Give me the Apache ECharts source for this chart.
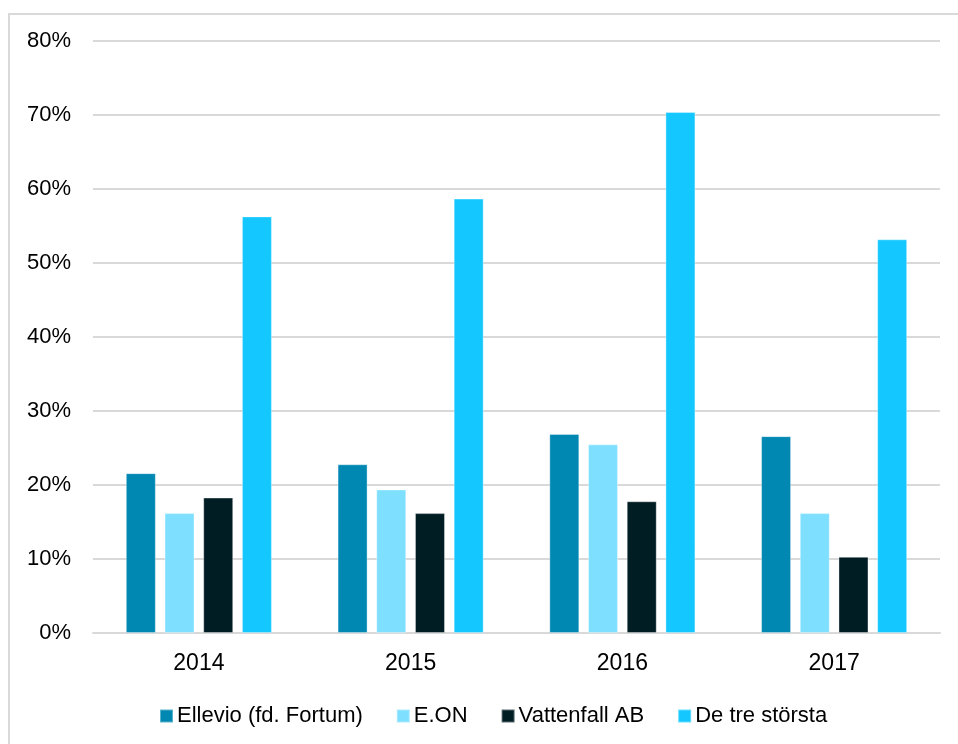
<!DOCTYPE html>
<html>
<head>
<meta charset="utf-8">
<script src="https://cdn.jsdelivr.net/npm/echarts@6/dist/echarts.min.js"></script>
<style>
  html, body { margin: 0; padding: 0; background: #fff; }
  #chart { width: 958px; height: 744px; }
</style>
</head>
<body>
<div id="chart"></div>
<script>
// years and shares (%)
var years = ['2014', '2015', '2016', '2017'];
var ellevio = [21.6, 22.8, 26.9, 26.6];
var eon = [16.2, 19.4, 25.5, 16.2];
var vattenfall = [18.3, 16.2, 17.8, 10.3];
var treStorsta = [56.3, 58.7, 70.4, 53.2];
var seriesNames = ['Ellevio (fd. Fortum)', 'E.ON', 'Vattenfall AB', 'De tre största'];
var colors = ['#0088b3', '#7fdfff', '#011d24', '#14c8ff'];

var chart = echarts.init(document.getElementById('chart'));
var font = 'Liberation Sans';

function bar(name, data, i) {
  return {
    name: name,
    type: 'bar',
    data: data,
    barWidth: 30,
    barGap: '29%',
    itemStyle: { color: colors[i], borderColor: 'rgba(255,255,255,0.35)', borderWidth: 1 },
    emphasis: { disabled: true }
  };
}

var option = {
  animation: false,
  color: colors,
  graphic: [{
    type: 'rect',
    shape: { x: 9, y: 14, width: 960, height: 740 },
    style: { fill: 'none', stroke: '#d9d9d9', lineWidth: 2 },
    silent: true
  }],
  grid: { left: 93, right: 18, top: 41, bottom: 111, containLabel: false },
  legend: {
    data: seriesNames,
    top: 700,
    left: 154,
    itemWidth: 13,
    itemHeight: 13,
    itemGap: 33,
    icon: 'rect',
    textStyle: { fontFamily: font, fontSize: 22, color: '#000', padding: [0, 0, 0, -1] }
  },
  xAxis: {
    type: 'category',
    data: years,
    axisLine: { show: true, lineStyle: { color: '#d9d9d9', width: 2 } },
    axisTick: { show: false },
    axisLabel: { fontFamily: font, fontSize: 23, color: '#000', margin: 19 }
  },
  yAxis: {
    type: 'value',
    min: 0,
    max: 80,
    interval: 10,
    axisLine: { show: false },
    axisTick: { show: false },
    splitLine: { lineStyle: { color: '#d9d9d9', width: 2 } },
    axisLabel: { fontFamily: font, fontSize: 22, color: '#000', margin: 22, formatter: '{value}%' }
  },
  series: [
    bar(seriesNames[0], ellevio, 0),
    bar(seriesNames[1], eon, 1),
    bar(seriesNames[2], vattenfall, 2),
    bar(seriesNames[3], treStorsta, 3)
  ]
};
chart.setOption(option);
</script>
</body>
</html>
